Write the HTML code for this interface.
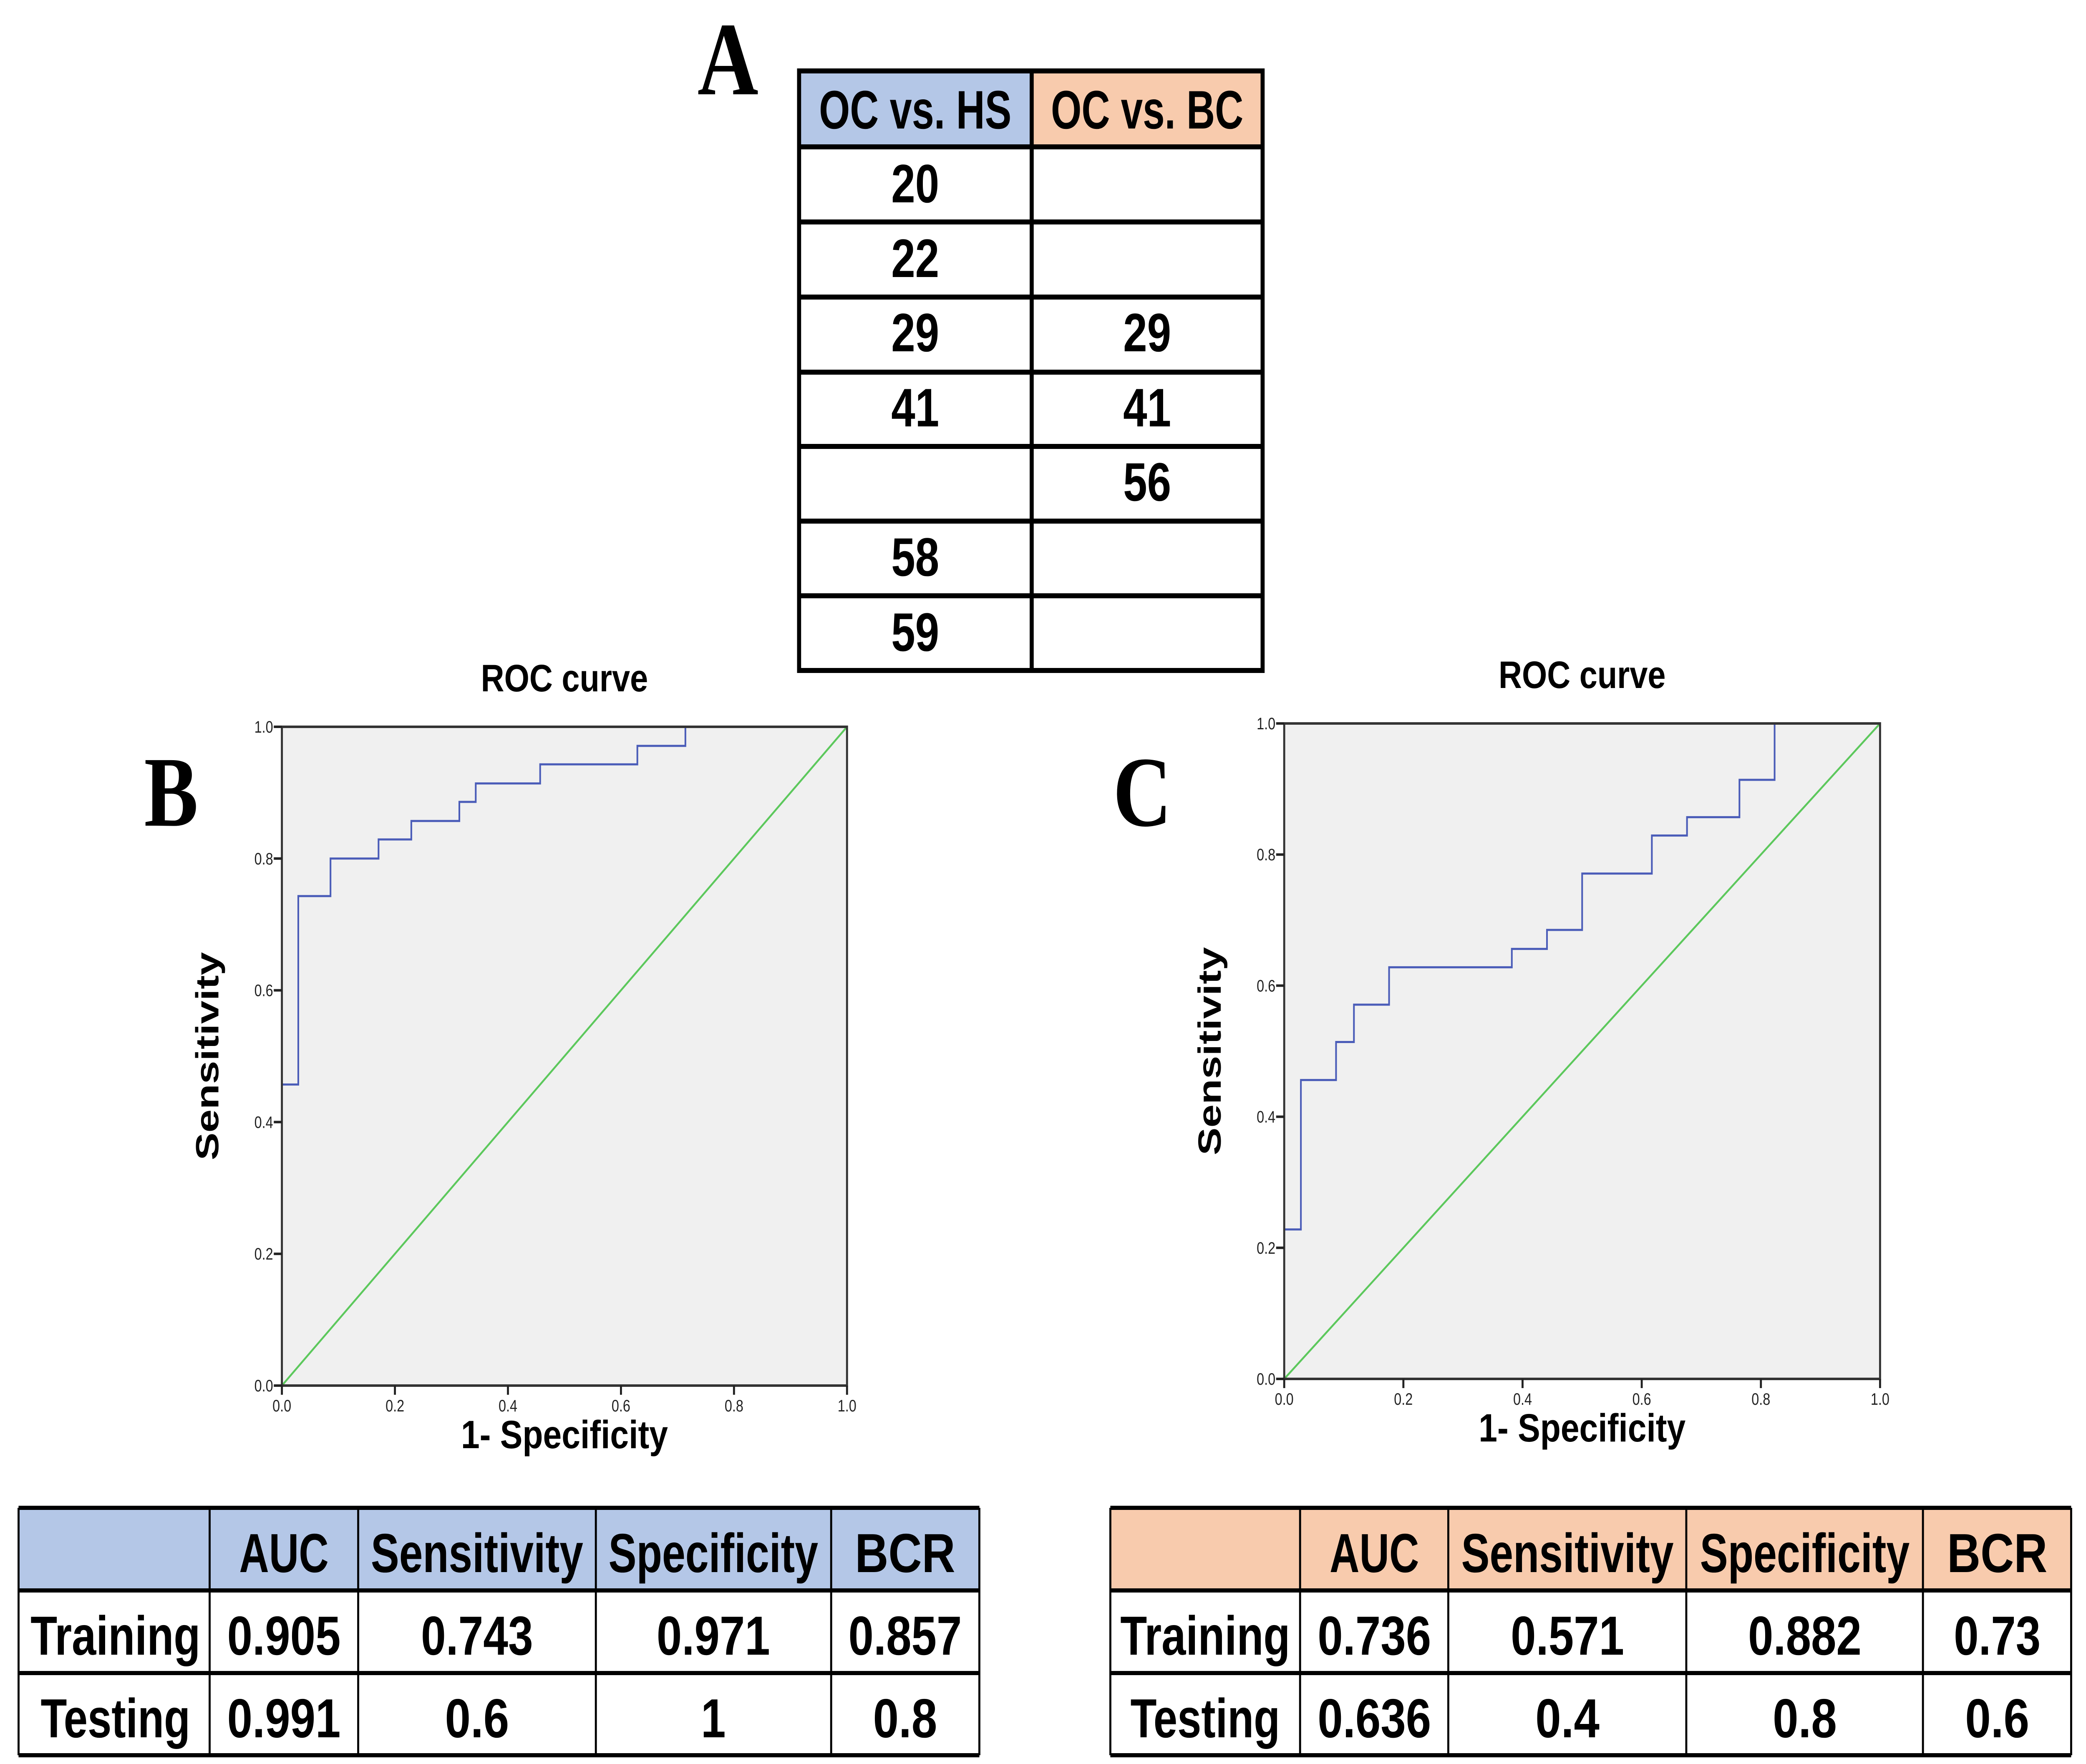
<!DOCTYPE html>
<html><head><meta charset="utf-8"><style>
html,body{margin:0;padding:0;background:#fff;width:100%;height:100%;overflow:hidden}
svg{display:block;width:100vw;height:100vh}
.cal{font-family:"Liberation Sans",sans-serif;font-weight:bold;fill:#000}
.tick{font-family:"Liberation Sans",sans-serif;font-size:40px;fill:#222}
.ser{font-family:"Liberation Serif",serif;font-weight:bold;fill:#000}
</style></head><body>
<svg id="fig" viewBox="0 0 6179 4228" preserveAspectRatio="none" xmlns="http://www.w3.org/2000/svg">
<!-- Panel A -->
<text class="ser" x="2066" y="226" font-size="250">A</text>
<g>
<rect x="2367" y="170" width="689" height="182" fill="#b4c7e7"/>
<rect x="3056" y="170" width="684" height="182" fill="#f8cbad"/>
<g stroke="#000" stroke-width="12" fill="none">
<rect x="2367" y="170" width="1373" height="1437"/>
<line x1="3056" y1="170" x2="3056" y2="1607"/>
<line x1="2367" y1="352" x2="3740" y2="352"/>
<line x1="2367" y1="532" x2="3740" y2="532"/>
<line x1="2367" y1="712" x2="3740" y2="712"/>
<line x1="2367" y1="892" x2="3740" y2="892"/>
<line x1="2367" y1="1070" x2="3740" y2="1070"/>
<line x1="2367" y1="1249" x2="3740" y2="1249"/>
<line x1="2367" y1="1428" x2="3740" y2="1428"/>
</g>
<g class="cal" font-size="130" text-anchor="middle">
<text x="2711" y="308" textLength="570" lengthAdjust="spacingAndGlyphs">OC vs. HS</text>
<text x="3398" y="308" textLength="570" lengthAdjust="spacingAndGlyphs">OC vs. BC</text>
<text x="2711" y="485" textLength="142" lengthAdjust="spacingAndGlyphs">20</text>
<text x="2711" y="664" textLength="142" lengthAdjust="spacingAndGlyphs">22</text>
<text x="2711" y="842" textLength="142" lengthAdjust="spacingAndGlyphs">29</text>
<text x="3398" y="842" textLength="142" lengthAdjust="spacingAndGlyphs">29</text>
<text x="2711" y="1022" textLength="142" lengthAdjust="spacingAndGlyphs">41</text>
<text x="3398" y="1022" textLength="142" lengthAdjust="spacingAndGlyphs">41</text>
<text x="3398" y="1200" textLength="142" lengthAdjust="spacingAndGlyphs">56</text>
<text x="2711" y="1380" textLength="142" lengthAdjust="spacingAndGlyphs">58</text>
<text x="2711" y="1560" textLength="142" lengthAdjust="spacingAndGlyphs">59</text>
</g>
</g>
<text class="ser" x="427" y="1979" font-size="240">B</text>
<text class="ser" x="3297" y="1979" font-size="240">C</text>
<g id="rocB"></g>
<g id="rocC"></g>

<g>
<rect x="55" y="3614" width="2846" height="198" fill="#b4c7e7"/>
<g stroke="#000" fill="none">
<line x1="55" y1="3614" x2="2901" y2="3614" stroke-width="10"/>
<line x1="55" y1="3812" x2="2901" y2="3812" stroke-width="10"/>
<line x1="55" y1="4010" x2="2901" y2="4010" stroke-width="10"/>
<line x1="55" y1="4207" x2="2901" y2="4207" stroke-width="10"/>
<line x1="55" y1="3614" x2="55" y2="4207" stroke-width="6"/>
<line x1="621" y1="3614" x2="621" y2="4207" stroke-width="6"/>
<line x1="1061" y1="3614" x2="1061" y2="4207" stroke-width="6"/>
<line x1="1765" y1="3614" x2="1765" y2="4207" stroke-width="6"/>
<line x1="2462" y1="3614" x2="2462" y2="4207" stroke-width="6"/>
<line x1="2901" y1="3614" x2="2901" y2="4207" stroke-width="6"/>
</g>
<g class="cal" font-size="132" text-anchor="middle">
<text x="841" y="3768" textLength="265" lengthAdjust="spacingAndGlyphs">AUC</text>
<text x="1413" y="3768" textLength="629" lengthAdjust="spacingAndGlyphs">Sensitivity</text>
<text x="2113" y="3768" textLength="621" lengthAdjust="spacingAndGlyphs">Specificity</text>
<text x="2681" y="3768" textLength="297" lengthAdjust="spacingAndGlyphs">BCR</text>
<text x="342" y="3966" textLength="503" lengthAdjust="spacingAndGlyphs">Training</text>
<text x="841" y="3966" textLength="336" lengthAdjust="spacingAndGlyphs">0.905</text>
<text x="1413" y="3966" textLength="332" lengthAdjust="spacingAndGlyphs">0.743</text>
<text x="2113" y="3966" textLength="336" lengthAdjust="spacingAndGlyphs">0.971</text>
<text x="2681" y="3966" textLength="336" lengthAdjust="spacingAndGlyphs">0.857</text>
<text x="342" y="4164" textLength="443" lengthAdjust="spacingAndGlyphs">Testing</text>
<text x="841" y="4164" textLength="336" lengthAdjust="spacingAndGlyphs">0.991</text>
<text x="1413" y="4164" textLength="190" lengthAdjust="spacingAndGlyphs">0.6</text>
<text x="2113" y="4164">1</text>
<text x="2681" y="4164" textLength="190" lengthAdjust="spacingAndGlyphs">0.8</text>
</g>
</g>
<g>
<rect x="3289" y="3614" width="2846" height="198" fill="#f8cbad"/>
<g stroke="#000" fill="none">
<line x1="3289" y1="3614" x2="6135" y2="3614" stroke-width="10"/>
<line x1="3289" y1="3812" x2="6135" y2="3812" stroke-width="10"/>
<line x1="3289" y1="4010" x2="6135" y2="4010" stroke-width="10"/>
<line x1="3289" y1="4207" x2="6135" y2="4207" stroke-width="10"/>
<line x1="3289" y1="3614" x2="3289" y2="4207" stroke-width="6"/>
<line x1="3851" y1="3614" x2="3851" y2="4207" stroke-width="6"/>
<line x1="4290" y1="3614" x2="4290" y2="4207" stroke-width="6"/>
<line x1="4995" y1="3614" x2="4995" y2="4207" stroke-width="6"/>
<line x1="5696" y1="3614" x2="5696" y2="4207" stroke-width="6"/>
<line x1="6135" y1="3614" x2="6135" y2="4207" stroke-width="6"/>
</g>
<g class="cal" font-size="132" text-anchor="middle">
<text x="4071" y="3768" textLength="265" lengthAdjust="spacingAndGlyphs">AUC</text>
<text x="4643" y="3768" textLength="629" lengthAdjust="spacingAndGlyphs">Sensitivity</text>
<text x="5346" y="3768" textLength="621" lengthAdjust="spacingAndGlyphs">Specificity</text>
<text x="5916" y="3768" textLength="297" lengthAdjust="spacingAndGlyphs">BCR</text>
<text x="3570" y="3966" textLength="503" lengthAdjust="spacingAndGlyphs">Training</text>
<text x="4071" y="3966" textLength="336" lengthAdjust="spacingAndGlyphs">0.736</text>
<text x="4643" y="3966" textLength="336" lengthAdjust="spacingAndGlyphs">0.571</text>
<text x="5346" y="3966" textLength="336" lengthAdjust="spacingAndGlyphs">0.882</text>
<text x="5916" y="3966" textLength="257" lengthAdjust="spacingAndGlyphs">0.73</text>
<text x="3570" y="4164" textLength="443" lengthAdjust="spacingAndGlyphs">Testing</text>
<text x="4071" y="4164" textLength="336" lengthAdjust="spacingAndGlyphs">0.636</text>
<text x="4643" y="4164" textLength="190" lengthAdjust="spacingAndGlyphs">0.4</text>
<text x="5346" y="4164" textLength="190" lengthAdjust="spacingAndGlyphs">0.8</text>
<text x="5916" y="4164" textLength="190" lengthAdjust="spacingAndGlyphs">0.6</text>
</g>
</g>
</svg>
<script>
const tickValues = [0, 0.2, 0.4, 0.6, 0.8, 1.0];
const tickLabels = ["0.0", "0.2", "0.4", "0.6", "0.8", "1.0"];
const fprB = [0, 0.029, 0.086, 0.171, 0.229, 0.314, 0.343, 0.457, 0.629, 0.714, 1];
const tprB = [0.457, 0.743, 0.8, 0.829, 0.857, 0.886, 0.914, 0.943, 0.971, 1.0, 1.0];
const fprC = [0, 0.028, 0.087, 0.117, 0.176, 0.382, 0.441, 0.5, 0.617, 0.676, 0.764, 0.823, 1];
const tprC = [0.228, 0.456, 0.514, 0.571, 0.628, 0.656, 0.685, 0.771, 0.829, 0.857, 0.914, 1.0, 1.0];
const NS = "http://www.w3.org/2000/svg";
function mk(parent, tag, attrs) {
  const e = document.createElementNS(NS, tag);
  for (const k in attrs) e.setAttribute(k, attrs[k]);
  parent.appendChild(e);
  return e;
}
function drawRoc(g, box, fpr, tpr) {
  const xs = v => box.l + v * (box.r - box.l);
  const ys = v => box.b - v * (box.b - box.t);
  const bg = mk(g, "rect", {x: box.l, y: box.t, width: box.r - box.l, height: box.b - box.t, fill: "#f0f0f0"});
  
  
  const diag = mk(g, "line", {x1: xs(0), y1: ys(0), x2: xs(1), y2: ys(1), stroke: "#5cc85c", "stroke-width": 5});
  
  
  let d = "M" + xs(0) + "," + ys(0);
  let prev = 0;
  for (let i = 0; i < fpr.length; i++) {
    d += " L" + xs(fpr[i]) + "," + ys(prev) + " L" + xs(fpr[i]) + "," + ys(tpr[i]);
    prev = tpr[i];
  }
  const curve = mk(g, "path", {d: d, fill: "none", stroke: "#4a5cb8", "stroke-width": 5});
  
  
  const frame = mk(g, "rect", {x: box.l, y: box.t, width: box.r - box.l, height: box.b - box.t, fill: "none", stroke: "#333", "stroke-width": 6});
  
  
  for (let i = 0; i < tickValues.length; i++) {
    const v = tickValues[i];
    mk(g, "line", {x1: box.l - 24, y1: ys(v), x2: box.l, y2: ys(v), stroke: "#222", "stroke-width": 6});
    const yl = mk(g, "text", {x: box.l - 26, y: ys(v) + 14, "text-anchor": "end", class: "tick"});
    yl.textContent = tickLabels[i];
    
    
    mk(g, "line", {x1: xs(v), y1: box.b, x2: xs(v), y2: box.b + 22, stroke: "#222", "stroke-width": 6});
    const xl = mk(g, "text", {x: xs(v), y: box.b + 62, "text-anchor": "middle", class: "tick"});
    xl.textContent = tickLabels[i];
    
    
  }
  const cx = (box.l + box.r) / 2;
  const title = mk(g, "text", {x: cx, y: box.t - 85, "text-anchor": "middle", class: "cal", "font-size": 92, textLength: 495, lengthAdjust: "spacingAndGlyphs"});
  title.textContent = "ROC curve";
  
  
  const xt = mk(g, "text", {x: cx, y: box.b + 150, "text-anchor": "middle", class: "cal", "font-size": 95, textLength: 613, lengthAdjust: "spacingAndGlyphs"});
  xt.textContent = "1- Specificity";
  
  
  const yx = box.l - 188, yy = (box.t + box.b) / 2;
  const yt = mk(g, "text", {x: yx, y: yy, "text-anchor": "middle", class: "cal", "font-size": 95, textLength: 499, lengthAdjust: "spacingAndGlyphs", transform: "rotate(-90 " + yx + " " + yy + ")"});
  yt.textContent = "Sensitivity";
  
  
}
drawRoc(document.getElementById("rocB"), {l: 835, r: 2509, t: 1742, b: 3321}, fprB, tprB);
drawRoc(document.getElementById("rocC"), {l: 3804, r: 5569, t: 1734, b: 3305}, fprC, tprC);
</script>
</body></html>
